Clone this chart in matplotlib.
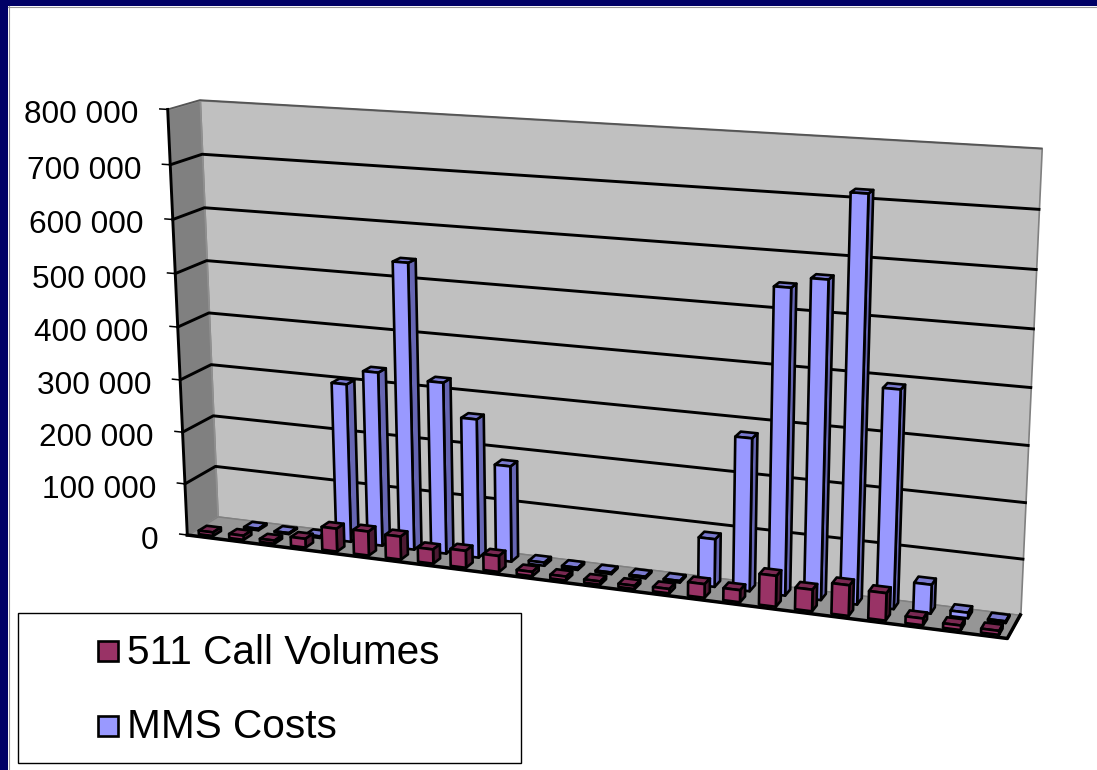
import matplotlib
matplotlib.use("Agg")
import matplotlib.pyplot as plt
from matplotlib.patches import Rectangle
from mpl_toolkits.mplot3d.art3d import Poly3DCollection
import numpy as np

plt.rcParams['font.family'] = ['Liberation Sans', 'DejaVu Sans']

# values, one entry per category (no labels on the x axis)
call_volumes = [7000, 8000, 6000, 17000, 44000, 46000, 44000, 27000, 32000, 30000, 8000, 7000,
                6000, 6000, 8000, 25000, 22000, 56000, 39000, 55000, 49000, 12000, 8000, 7000]
mms_costs = [0, 3000, 2000, 3000, 302000, 330000, 538000, 323000, 261000, 180000, 6000, 4000,
             3000, 3000, 3000, 88000, 278000, 548000, 567000, 717000, 389000, 52000, 10000, 3000]
y_ticks = [0, 100000, 200000, 300000, 400000, 500000, 600000, 700000, 800000]
series_names = ['511 Call Volumes', 'MMS Costs']

W, H = 1097, 770
n_cat = len(call_volumes)
v_max = y_ticks[-1]

# box corners on screen: (category, depth, value) -> pixel, for the perspective fit
box_world = [(0, 0, 800000), (0, 0, 400000), (0, 0, 0), (0, 1, 800000), (0, 1, 400000), (0, 1, 0),
             (n_cat, 1, 800000), (n_cat, 1, 600000), (n_cat, 1, 200000), (n_cat, 1, 0), (n_cat, 0, 0)]
box_pixel = [(168, 109), (178, 327), (187, 535), (200, 100), (208, 314), (218, 516),
             (1042, 148), (1035, 270), (1027, 503), (1020, 614), (1007, 639)]

fig = plt.figure(figsize=(W / 100, H / 100), dpi=100, facecolor='white')
ax = fig.add_axes([0, 0, 1, 1], projection='3d', computed_zorder=False)
ax.set_axis_off()
ax.patch.set_visible(False)
ax.apply_aspect = lambda position=None: None  # keep the full figure, not a square box
ax._focal_length = np.inf  # lines are not clipped by the view box


def fit_projection():
    # least squares fit of the 3x4 camera matrix, in normalised units
    rows, rhs = [], []
    for (c, d, v), (px, py) in zip(box_world, box_pixel):
        c, v = c / n_cat, v / v_max
        rows.append([c, d, v, 1, 0, 0, 0, 0, -px * c, -px * d, -px * v])
        rhs.append(px)
        rows.append([0, 0, 0, 0, c, d, v, 1, -py * c, -py * d, -py * v])
        rhs.append(py)
    sol = np.linalg.lstsq(np.array(rows, float), np.array(rhs, float), rcond=None)[0]
    cam = np.array([sol[:4], sol[4:8], [sol[8], sol[9], sol[10], 1.0]])
    return cam @ np.diag([1 / n_cat, 1, 1 / v_max, 1])


cam = fit_projection()


def to_pixel(c, d, v):
    p = cam @ np.array([c, d, v, 1.0])
    return p[0] / p[2], p[1] / p[2]


def build_matrix():
    # pixel (y down) to the 2d coordinates of the 3d axes
    disp = np.array([[1, 0, 0], [0, -1, H], [0, 0, 1.0]])
    to_data = ax.transData.inverted().get_matrix() @ disp
    top = to_data[:2] @ cam
    depth = np.array([0, 0.1, 0, -0.9])
    return np.vstack([top[0], top[1], depth, cam[2]])


M = build_matrix()
ax.get_proj = lambda: M

z = 1


def add_faces(faces, colors, edge='black', lw=1.9):
    global z
    poly = Poly3DCollection(faces, facecolors=colors, edgecolors=edge, linewidths=lw, zorder=z)
    ax.add_collection3d(poly, autolim=False)
    z += 1


def draw_bar(k, value, d0, d1, colors):
    x0, x1 = k + 0.28, k + 0.75
    front = [(x0, d0, 0), (x1, d0, 0), (x1, d0, value), (x0, d0, value)]
    right = [(x1, d0, 0), (x1, d1, 0), (x1, d1, value), (x1, d0, value)]
    top = [(x0, d0, value), (x1, d0, value), (x1, d1, value), (x0, d1, value)]
    add_faces([right, top, front], [colors[2], colors[1], colors[0]])


# walls and floor
add_faces([[(0, 1, 0), (n_cat, 1, 0), (n_cat, 1, v_max), (0, 1, v_max)]], ['#C0C0C0'], edge='#808080', lw=1.2)
add_faces([[(0, 0, 0), (0, 1, 0), (0, 1, v_max), (0, 0, v_max)]], ['#808080'], edge='#909090', lw=1.2)
add_faces([[(0, 0, 0), (n_cat, 0, 0), (n_cat, 1, 0), (0, 1, 0)]], ['#969696'], edge='#808080', lw=1.0)

# gridlines and ticks
for v in y_ticks:
    if 0 < v < v_max:
        ax.plot([0, 0, n_cat], [0, 1, 1], [v, v, v], color='black', lw=2.1, zorder=z)
    elif v == v_max:
        ax.plot([0, 0, n_cat], [0, 1, 1], [v, v, v], color='#555555', lw=1.3, zorder=z)
    ax.plot([-0.25, 0], [0, 0], [v, v], color='black', lw=1.1, zorder=z)
z += 1
ax.plot([0, 0], [0, 0], [0, v_max], color='black', lw=2.1, zorder=z)
ax.plot([0, n_cat, n_cat], [0, 0, 1], [0, 0, 0], color='black', lw=2.5, zorder=z)
z += 1

# bars, back row first, left to right
blue = ['#9999FF', '#7A7AD0', '#6666B3']
red = ['#993366', '#7A2952', '#4D1A33']
for k, value in enumerate(mms_costs):
    if value > 0:
        draw_bar(k, value, 0.60, 0.88, blue)
for k, value in enumerate(call_volumes):
    draw_bar(k, value, 0.10, 0.36, red)

# slide frame, tick labels and legend, in pixels
lax = fig.add_axes([0, 0, 1, 1])
lax.set_xlim(0, W)
lax.set_ylim(H, 0)
lax.axis('off')
lax.add_patch(Rectangle((0, 0), W, 6, color='#000066', lw=0))
lax.add_patch(Rectangle((0, 0), 8, H, color='#000066', lw=0))
lax.plot([8, W], [6.5, 6.5], color='#999999', lw=0.8)
lax.plot([8.5, 8.5], [6, H], color='#999999', lw=0.8)

for v in y_ticks:
    px, py = to_pixel(0, 0, v)
    lax.text(px - 29, py + 6, f"{v:,}".replace(",", " "), ha='right', va='center', fontsize=22.7, color='black')

lax.add_patch(Rectangle((18, 612.5), 503, 150, facecolor='white', edgecolor='black', lw=1.0))
for name, color, y in zip(series_names, [red[0], blue[0]], [650.5, 725.5]):
    lax.add_patch(Rectangle((97.5, y - 10), 20, 20, facecolor=color, edgecolor='black', lw=1.9))
    lax.text(127, y + 2, name, fontsize=29.2, va='center', ha='left', color='black')

fig.savefig('out.png', dpi=100)
